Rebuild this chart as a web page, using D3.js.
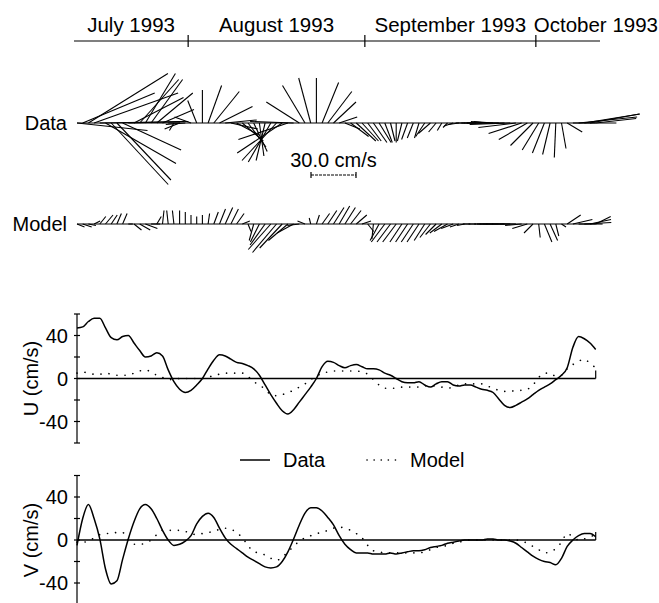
<!DOCTYPE html>
<html><head><meta charset="utf-8">
<script src="https://cdn.jsdelivr.net/npm/d3@7"></script>
<style>
body{margin:0;background:#fff;}
svg{display:block;font-family:"Liberation Sans",Arial,Helvetica,sans-serif;}
</style></head>
<body><svg id="c" width="659" height="603"></svg>
<script>
// ---- data (cm/s), daily samples starting 12 July 1993 12:00 ----
const startDate = new Date(1993, 6, 12, 12);
const uData = [47,48,53,56,56,47,38,36,39,40,33,26,20,21,24,21,8,-3,-10,-13,
  -11,-6,0,9,17,22,21,18,15,14,12,9,3,-6,-15,-23,-30,-33,-29,-22,
  -15,-8,0,11,16,15,12,10,12,13,11,9,9,8,5,3,0,-3,-4,-4,
  -3,-6,-8,-5,-3,-3,-6,-7,-6,-6,-8,-10,-11,-13,-19,-25,-27,-25,-22,-19,
  -15,-11,-8,-5,-1,3,10,29,39,37,33,27];
const vData = [-5,20,33,20,1,-27,-41,-38,-18,1,17,29,33,29,20,9,0,-5,-4,-1,
  4,15,22,25,21,11,2,-4,-8,-12,-16,-19,-22,-25,-26,-25,-20,-11,1,14,
  25,30,30,27,21,14,4,-4,-9,-12,-12,-12,-13,-13,-13,-12,-13,-12,-11,-10,
  -10,-9,-7,-6,-5,-3,-2,-1,0,0,0,0,1,1,0,0,-1,-3,-7,-11,
  -15,-18,-20,-21,-23,-17,-6,0,4,6,6,3];
const uModel = [5,6,5,4,4,5,4,3,3,3,5,7,8,6,3,1,-1,-1,0,0,
  0,0,0,1,3,4,5,5,5,5,2,-3,-6,-10,-15,-16,-15,-13,-11,-8,
  -5,-1,2,5,6,7,7,7,7,7,6,4,-1,-6,-9,-9,-9,-8,-8,-8,
  -8,-7,-7,-7,-8,-9,-8,-6,-5,-5,-5,-5,-7,-9,-11,-12,-12,-11,-11,-10,
  -6,1,5,5,2,3,9,13,16,18,14,10];
const vModel = [-2,-2,-1,2,5,6,6,7,7,0,-4,-4,-3,0,5,9,9,9,9,8,
  6,5,6,7,8,10,11,10,7,2,-5,-11,-12,-14,-17,-19,-16,-11,-6,-1,
  2,4,6,7,9,11,12,11,9,6,2,-5,-10,-11,-12,-12,-12,-12,-12,-12,
  -12,-11,-9,-7,-6,-5,-3,-2,-1,0,0,0,0,0,0,0,0,0,-1,-3,
  -6,-9,-12,-11,-8,-2,6,3,0,1,3,5];
const monthLabels = ["July 1993","August 1993","September 1993","October 1993"];
const monthStarts = [new Date(1993,6,1), new Date(1993,7,1), new Date(1993,8,1), new Date(1993,9,1), new Date(1993,10,1)];
const yTicks = [-60,-40,-20,0,20,40,60];
const yLabels = [-40,0,40];
const scaleBarValue = 30;

const dates = uData.map((_, i) => d3.timeDay.offset(startDate, i));

// ---- layout ----
const W = 659;
const svg = d3.select("#c");
const x = d3.scaleTime().domain([dates[0], dates[dates.length-1]]).range([77, 595.7]);
const stickScale = d3.scaleLinear().domain([0, 1]).range([0, 1.5]); // px per cm/s
const font = 20;

// ---- top month axis ----
const axStart = x.invert(74), axEnd = x.invert(600);
const axY = 41;
svg.append("line").attr("x1", x(axStart)).attr("x2", x(axEnd)).attr("y1", axY).attr("y2", axY)
  .attr("stroke", "#000").attr("stroke-width", 1.2);
monthStarts.slice(1, 4).forEach(d => {
  svg.append("line").attr("x1", x(d)).attr("x2", x(d)).attr("y1", axY - 6).attr("y2", axY + 6)
    .attr("stroke", "#000").attr("stroke-width", 1.2);
});
monthLabels.forEach((lab, i) => {
  const a = x(d3.max([monthStarts[i], axStart])), b = x(d3.min([monthStarts[i+1], axEnd]));
  const t = svg.append("text").attr("y", 32).attr("font-size", 20.5).attr("text-anchor", "middle").text(lab);
  const w = t.node().getComputedTextLength();
  const cx = Math.min(Math.max((a + b) / 2, a + w / 2), W - 1 - w / 2);
  t.attr("x", cx);
});

// ---- stick plots ----
function sticks(base, us, vs, label) {
  const g = svg.append("g");
  g.append("line").attr("x1", x(dates[0])).attr("x2", x(dates[dates.length-1]))
    .attr("y1", base).attr("y2", base).attr("stroke", "#000").attr("stroke-width", 1.2);
  g.selectAll("line.s").data(dates).join("line").attr("class", "s")
    .attr("x1", d => x(d)).attr("y1", base)
    .attr("x2", (d, i) => x(d) + stickScale(us[i]))
    .attr("y2", (d, i) => base - stickScale(vs[i]))
    .attr("stroke", "#000").attr("stroke-width", 1.1);
  svg.append("text").attr("x", 67).attr("y", base).attr("dy", "0.36em")
    .attr("text-anchor", "end").attr("font-size", font).text(label);
}
sticks(123, uData, vData, "Data");
sticks(224, uModel, vModel, "Model");

// scale bar
const sbx = 311, sby = 175;
svg.append("line").attr("x1", sbx).attr("x2", sbx + stickScale(scaleBarValue)).attr("y1", sby).attr("y2", sby)
  .attr("stroke", "#000").attr("stroke-width", 1).attr("stroke-dasharray", "3,1");
[sbx, sbx + stickScale(scaleBarValue)].forEach(px => {
  svg.append("line").attr("x1", px).attr("x2", px).attr("y1", sby - 3).attr("y2", sby + 3)
    .attr("stroke", "#000").attr("stroke-width", 1.2);
});
svg.append("text").attr("x", sbx + stickScale(scaleBarValue) / 2).attr("y", 167)
  .attr("text-anchor", "middle").attr("font-size", font).text(scaleBarValue.toFixed(1) + " cm/s");

// ---- time series panels ----
function panel(y0, dataArr, modelArr, label) {
  const y = d3.scaleLinear().domain([-60, 60]).range([y0 + 64.5, y0 - 64.5]);
  const g = svg.append("g");
  g.append("line").attr("x1", 77).attr("x2", 77).attr("y1", y(60)).attr("y2", y(-60))
    .attr("stroke", "#000").attr("stroke-width", 1.2);
  yTicks.forEach(t => {
    g.append("line").attr("x1", 74).attr("x2", 80).attr("y1", y(t)).attr("y2", y(t))
      .attr("stroke", "#000").attr("stroke-width", 1.2);
  });
  yLabels.forEach(t => {
    g.append("text").attr("x", 68).attr("y", y(t)).attr("dy", "0.36em")
      .attr("text-anchor", "end").attr("font-size", font).text(t);
  });
  // zero line
  g.append("line").attr("x1", 77).attr("x2", x(dates[dates.length-1])).attr("y1", y(0)).attr("y2", y(0))
    .attr("stroke", "#000").attr("stroke-width", 1.3);
  g.append("line").attr("x1", x(dates[dates.length-1])).attr("x2", x(dates[dates.length-1]))
    .attr("y1", y(0)).attr("y2", y(0) - 8).attr("stroke", "#000").attr("stroke-width", 1.2);
  const line = d3.line().x((d, i) => x(dates[i])).y(d => y(d)).curve(d3.curveMonotoneX);
  g.append("path").attr("d", line(dataArr)).attr("fill", "none").attr("stroke", "#000").attr("stroke-width", 1.5);
  g.append("path").attr("d", line(modelArr)).attr("fill", "none").attr("stroke", "#000")
    .attr("stroke-width", 1.6).attr("stroke-dasharray", "0.1,8").attr("stroke-linecap", "round");
  svg.append("text").attr("transform", `translate(31,${y0}) rotate(-90)`).attr("dy", "0.36em")
    .attr("text-anchor", "middle").attr("font-size", font).text(label);
}
panel(378.5, uData, uModel, "U (cm/s)");
panel(540, vData, vModel, "V (cm/s)");

// ---- legend ----
const ly = 460;
svg.append("line").attr("x1", 240).attr("x2", 270).attr("y1", ly).attr("y2", ly)
  .attr("stroke", "#000").attr("stroke-width", 1.5);
svg.append("text").attr("x", 283).attr("y", ly).attr("dy", "0.36em").attr("font-size", font).text("Data");
svg.append("line").attr("x1", 367).attr("x2", 402).attr("y1", ly).attr("y2", ly)
  .attr("stroke", "#000").attr("stroke-width", 1.6).attr("stroke-dasharray", "0.1,7").attr("stroke-linecap", "round");
svg.append("text").attr("x", 410).attr("y", ly).attr("dy", "0.36em").attr("font-size", font).text("Model");
</script>
</body></html>
